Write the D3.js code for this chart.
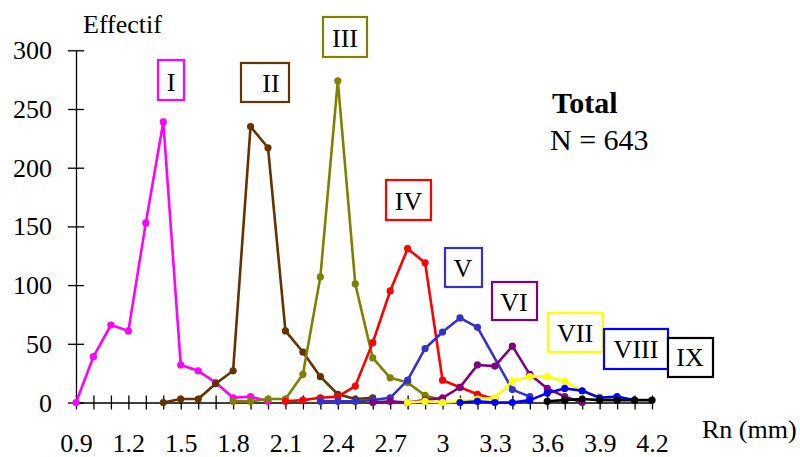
<!DOCTYPE html>
<html>
<head>
<meta charset="utf-8">
<script src="https://cdn.jsdelivr.net/npm/d3@7"></script>
<style>
  body { margin: 0; background: #fff; }
</style>
</head>
<body>
<svg id="chart" width="800" height="457"></svg>
<script>
// classes and where each one starts on the Rn axis (mm)
const classNames = ["I", "II", "III", "IV", "V", "VI", "VII", "VIII", "IX"];
const classStart = [0.9, 1.4, 1.8, 2.1, 2.3, 2.6, 2.8, 3.1, 3.6];

// counts (Effectif), one value every 0.1 mm from the start; null = no point
const countsI = [0, 39, 66, 61, 153, 239, 32, 27, 17, 4, 5, 1];
const countsII = [0, 3, 3, 16, 27, 235, 217, 61, 43, 22, 7, 3, 4];
const countsIII = [1, 1, 3, 3, 24, 107, 274, 101, 38, 21, 17, 6, 2];
const countsIV = [1, 2, 4, 5, 14, 51, 95, 131, 119, 19, 13, 7, 3];
const countsV = [1, 1, 1, 2, 4, 19, 46, 60, 72, 64, null, 11, 5];
const countsVI = [0, 1, 0, 2, 4, 13, 32, 31, 48, 24, 12, 5, 0];
const countsVII = [0, 1, 0, 1, 3, 4, 18, 22, 22, 18, 10, 5, 4];
const countsVIII = [0, 1, 0, 0, 2, 8, 12, 10, 4, 5, 2];
const countsIX = [1, 2, 3, 2, 2, 2, 2];

const xTickLabels = [0.9, 1.2, 1.5, 1.8, 2.1, 2.4, 2.7, 3, 3.3, 3.6, 3.9, 4.2];
const yTickLabels = [0, 50, 100, 150, 200, 250, 300];
const totalN = 643;

const allCounts = [countsI, countsII, countsIII, countsIV, countsV,
  countsVI, countsVII, countsVIII, countsIX];

const colors = ["#ff00ff", "#663300", "#808000", "#ff0000", "#3333cc",
  "#800080", "#ffff00", "#0000ff", "#000000"];

const serif = "'Liberation Serif', 'DejaVu Serif', serif";

// label boxes: x, y, w, h, text x, text baseline
const labelBoxes = [
  [158, 60, 26, 40, 171, 91],
  [241, 63, 48, 39, 271, 92],
  [323, 17, 44, 40, 345, 47],
  [386, 180, 45, 40, 408.5, 210],
  [445, 248, 37, 39, 463, 277],
  [492, 282, 45, 38, 514, 311],
  [548, 313, 55, 39, 575, 342],
  [604, 329, 64, 40, 636, 358],
  [668, 338, 45, 39, 690, 366]
];

const svg = d3.select("#chart");

const x = d3.scaleLinear().domain([0.9, 4.2]).range([76, 652]);
const y = d3.scaleLinear().domain([0, 300]).range([402.5, 50.3]);

const xMinor = d3.range(9, 43).map((d) => d / 10);

// x axis: minor ticks crossing the line
const xAxisG = svg.append("g")
  .attr("transform", "translate(0," + y(0) + ")")
  .call(d3.axisBottom(x).tickValues(xMinor).tickSizeOuter(0).tickFormat(""));
xAxisG.selectAll(".tick line").attr("y1", -7).attr("y2", 7);

// x axis labels
const xLab = svg.append("g")
  .attr("transform", "translate(0," + y(0) + ")")
  .call(d3.axisBottom(x).tickValues(xTickLabels).tickSize(0).tickPadding(0)
    .tickFormat((d) => String(d)));
xLab.select(".domain").remove();
xLab.selectAll("text")
  .attr("y", 49)
  .attr("dy", null);

// y axis
const yAxisG = svg.append("g")
  .attr("transform", "translate(" + x(0.9) + ",0)")
  .call(d3.axisLeft(y).tickValues(yTickLabels).tickSizeOuter(0).tickPadding(0));
yAxisG.selectAll(".tick line").attr("x1", -8).attr("x2", 8);
yAxisG.selectAll("text")
  .attr("x", -24)
  .attr("dy", "0.33em");

svg.selectAll(".tick text")
  .style("font-family", serif)
  .style("font-size", "26px")
  .attr("fill", "#000");

svg.selectAll(".domain, .tick line")
  .attr("stroke", "#000")
  .attr("stroke-width", 1.3);

// series
const line = d3.line()
  .x((d) => x(d.rn))
  .y((d) => y(d.v));

allCounts.forEach((vals, i) => {
  const pts = vals.map((v, k) => ({ rn: Math.round((classStart[i] + k * 0.1) * 10) / 10, v: v }))
    .filter((d) => d.v !== null);
  const g = svg.append("g");
  g.append("path")
    .datum(pts)
    .attr("fill", "none")
    .attr("stroke", colors[i])
    .attr("stroke-width", 2.6)
    .attr("stroke-linejoin", "round")
    .attr("d", line);
  g.selectAll("circle")
    .data(pts)
    .enter()
    .append("circle")
    .attr("cx", (d) => x(d.rn))
    .attr("cy", (d) => y(d.v))
    .attr("r", 3.6)
    .attr("fill", colors[i]);
});

// class labels
labelBoxes.forEach((b, i) => {
  svg.append("rect")
    .attr("x", b[0]).attr("y", b[1])
    .attr("width", b[2]).attr("height", b[3])
    .attr("fill", "#fff")
    .attr("stroke", colors[i])
    .attr("stroke-width", 2.2);
  svg.append("text")
    .attr("x", b[4]).attr("y", b[5])
    .attr("text-anchor", "middle")
    .style("font-family", serif)
    .style("font-size", "26px")
    .text(classNames[i]);
});

// axis titles
svg.append("text").attr("x", 83).attr("y", 33)
  .style("font-family", serif).style("font-size", "26px").text("Effectif");
svg.append("text").attr("x", 702).attr("y", 438)
  .style("font-family", serif).style("font-size", "26px").text("Rn (mm)");

// total
svg.append("text").attr("x", 552).attr("y", 113)
  .style("font-family", serif).style("font-size", "30px")
  .style("font-weight", "bold").text("Total");
svg.append("text").attr("x", 550).attr("y", 150)
  .style("font-family", serif).style("font-size", "30px").text("N = " + totalN);
</script>
</body>
</html>
